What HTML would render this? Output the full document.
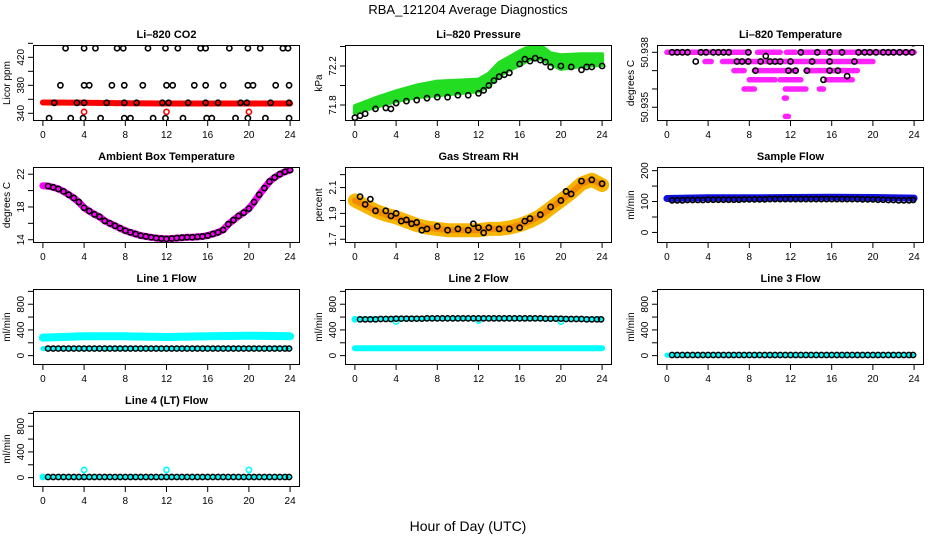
<!DOCTYPE html>
<html><head><meta charset="utf-8"><style>
html,body{margin:0;padding:0;background:#fff}
svg{display:block;font-family:"Liberation Sans",Arial,sans-serif}
</style></head><body>
<svg id="c" width="936" height="540" viewBox="0 0 936 540" xmlns="http://www.w3.org/2000/svg">
<text x="468" y="14" text-anchor="middle" font-size="13">RBA_121204  Average Diagnostics</text>
<text x="468" y="531" text-anchor="middle" font-size="14">Hour of Day (UTC)</text>
</svg>
<script>
// ---------- data ----------
const xTicks=[0,4,8,12,16,20,24];
const co2Hours=[2.2,4,5.1,7.2,7.8,10.2,11.9,13.1,15.3,15.8,18.1,19.9,21.1,23.3,23.8,
 1.7,4,4.5,6.7,7.9,9.7,12,12.6,14.7,15.8,17.5,19.9,20.4,22.6,23.9,
 1.1,3.3,4,6.2,7.9,9.1,11.6,12.2,14.1,15.8,17,19.2,19.8,22.1,23.9,
 0.6,2.7,3.9,5.6,7.9,8.5,10.7,11.9,13.6,15.9,16.4,18.7,19.9,21.6,23.9];
const co2Values=[433,433,433,433,433,433,433,433,433,433,433,433,433,433,433,
 380,380,380,380,380,380,380,380,380,380,380,380,380,380,380,
 355,355,355,355,355,355,355,355,355,355,355,355,355,355,355,
 333,333,333,333,333,333,333,333,333,333,333,333,333,333,333];
const co2BandHours=[0,4,8,12,16,20,24];
const co2BandValues=[355.5,355,354.5,354,354,354,354];
const co2RedHours=[4,12,20];
const co2RedValues=[342,342,342];

const presBandHours=[0,2,4,6,8,10,12,13,14,15,16,17,18,19,20,22,24];
const presUpper=[71.79,71.87,71.94,72.0,72.04,72.05,72.06,72.12,72.23,72.29,72.35,72.4,72.41,72.33,72.31,72.32,72.32];
const presLower=[71.72,71.78,71.84,71.88,71.9,71.92,71.94,72.0,72.1,72.16,72.21,72.27,72.28,72.22,72.17,72.2,72.21];
const presHours=[0,0.5,1,2,3,3.5,4,5,6,7,8,9,10,11,12,12.5,13,13.5,14,14.5,15,16,16.5,17,17.5,18,18.5,19,20,21,22,22.5,23,24];
const presValues=[71.67,71.69,71.71,71.76,71.77,71.76,71.82,71.84,71.85,71.87,71.88,71.88,71.9,71.9,71.92,71.95,72.0,72.05,72.09,72.11,72.13,72.22,72.27,72.25,72.28,72.26,72.24,72.19,72.2,72.19,72.16,72.19,72.19,72.2];

const tempSegStart=[0,8.8,11.6,13,3.7,5.4,6.5,8.5,13.5,8,11,15.5,7.5,11.5,14.8,11.4,11.5];
const tempSegEnd=[8,11,12.5,24,4.3,20,7.5,12.5,18.5,10.5,13,18,8.5,13.5,15.2,11.6,11.8];
const tempSegValues=[50.938,50.938,50.938,50.938,50.9375,50.9375,50.937,50.937,50.937,50.9365,50.9365,50.9365,50.936,50.936,50.936,50.9355,50.9345];
const tempHours=[0.5,1,1.5,2,3.3,3.8,4.5,5,5.5,6,7.9,13,14.6,15.8,17,18.6,19.2,19.7,20.3,21,21.5,22,22.6,23.2,23.8,
 2.8,6.8,7.3,7.9,9.1,10,10.5,11,12,14.1,15.8,18.2,8.6,11.8,12.5,13.6,15.8,16.6,17.5,15.2,9.6,23.9];
const tempValues=[50.938,50.938,50.938,50.938,50.938,50.938,50.938,50.938,50.938,50.938,50.938,50.938,50.938,50.938,50.938,50.938,50.938,50.938,50.938,50.938,50.938,50.938,50.938,50.938,50.938,
 50.9375,50.9375,50.9375,50.9375,50.9375,50.9375,50.9375,50.9375,50.9375,50.9375,50.9375,50.9375,50.937,50.937,50.937,50.937,50.937,50.937,50.9367,50.9365,50.9378,50.9385];

const ambHours=[0,0.5,1,1.5,2,2.5,3,3.5,4,4.5,5,5.5,6,6.5,7,7.5,8,8.5,9,9.5,10,10.5,11,11.5,12,12.5,13,13.5,14,14.5,15,15.5,16,16.5,17,17.5,18,18.5,19,19.5,20,20.5,21,21.5,22,22.5,23,23.5,24];
const ambValues=[20.6,20.55,20.4,20.2,19.9,19.5,19.1,18.6,17.9,17.5,17.1,16.8,16.3,16.0,15.7,15.4,15.1,14.9,14.7,14.5,14.4,14.3,14.2,14.15,14.1,14.15,14.2,14.25,14.3,14.3,14.35,14.4,14.5,14.7,14.9,15.2,15.9,16.4,16.9,17.3,17.8,18.6,19.5,20.3,21.1,21.6,22.0,22.3,22.5];

const rhBandHours=[0,1,2,3,4,5,6,7,8,9,10,11,12,13,14,15,16,17,18,19,20,21,22,23,24];
const rhBandValues=[2.0,1.96,1.92,1.89,1.87,1.84,1.81,1.79,1.78,1.77,1.77,1.77,1.77,1.78,1.78,1.79,1.81,1.84,1.88,1.94,2.0,2.06,2.13,2.16,2.12];
const rhHours=[0.5,1,1.5,2,3,3.5,4,4.5,5,5.5,6,6.5,7,8,9,10,11,11.5,12,12.5,13,14,15,16,16.5,17,18,19,20,20.5,21,22,23,24];
const rhValues=[2.03,1.97,2.01,1.92,1.92,1.88,1.9,1.84,1.85,1.82,1.83,1.77,1.78,1.8,1.77,1.78,1.77,1.82,1.79,1.75,1.79,1.78,1.78,1.79,1.84,1.86,1.89,1.95,2.0,2.07,2.05,2.15,2.16,2.13];

const flowBandHours=[0,4,8,12,16,20,24];
const sampleBandValues=[110,112,112,113,114,113,111];
const line1BandValues=[280,300,300,290,300,310,300];
const line2HighBand=[570,575,580,580,580,575,570];
const line2LowBand=[115,115,115,115,115,115,115];
const zeroBand=[8,8,8,8,8,8,8];
const flowHours=[0.5,1,1.5,2,2.5,3,3.5,4,4.5,5,5.5,6,6.5,7,7.5,8,8.5,9,9.5,10,10.5,11,11.5,12,12.5,13,13.5,14,14.5,15,15.5,16,16.5,17,17.5,18,18.5,19,19.5,20,20.5,21,21.5,22,22.5,23,23.5,23.9];
const sampleValues=[104,104,104,105,105,105,105,106,106,106,106,106,106,106,107,107,107,107,107,108,108,108,108,108,108,108,108,108,108,108,108,108,108,108,108,108,108,107,107,107,106,106,105,105,104,104,104,105];
const line1Values=[110,110,110,110,110,110,110,110,110,110,110,110,110,110,110,110,110,110,110,110,110,110,110,110,110,110,110,110,110,110,110,110,110,110,110,110,110,110,110,110,110,110,110,110,110,110,110,110];
const line2Values=[565,565,565,565,570,570,570,575,575,575,575,575,575,580,580,580,580,580,580,580,580,580,580,580,580,580,580,580,580,580,580,580,580,580,580,580,575,575,575,575,570,570,570,570,565,565,565,565];
const line3Values=[10,10,10,10,10,10,10,10,10,10,10,10,10,10,10,10,10,10,10,10,10,10,10,10,10,10,10,10,10,10,10,10,10,10,10,10,10,10,10,10,10,10,10,10,10,10,10,10];
const line4Values=[10,10,10,10,10,10,10,10,10,10,10,10,10,10,10,10,10,10,10,10,10,10,10,10,10,10,10,10,10,10,10,10,10,10,10,10,10,10,10,10,10,10,10,10,10,10,10,10];
const spikeHours=[0,4,12,20];
const spikeValues=[10,120,120,120];
const line2DipHours=[0,4,12,20];
const line2DipValues=[565,530,545,530];

// ---------- drawing ----------
const NS='http://www.w3.org/2000/svg';
const svg=document.getElementById('c');
const COLS=[33,345,657], ROWS=[45,167,289,411], PW=267, PH=76;
function mk(tag,attrs,parent){const e=document.createElementNS(NS,tag);for(const k in attrs)e.setAttribute(k,attrs[k]);(parent||svg).appendChild(e);return e;}
function panel(name,title,ylab,col,row,ymin,ymax,yticks,ylabels){
  const L=COLS[col],T=ROWS[row];
  const g=mk('g',{});
  
  
  const p={g,L,T,
    x:h=>L+9.9+h*(PW-19.8)/24,
    y:v=>T+PH-(v-ymin)/(ymax-ymin)*PH};
  const clip=mk('clipPath',{id:'clip-'+name},g);
  mk('rect',{x:L,y:T,width:PW,height:PH},clip);
  p.plot=mk('g',{'clip-path':'url(#clip-'+name+')'},g);
  
  
  const t=mk('text',{x:L+PW/2,y:T-7,'text-anchor':'middle','font-size':11,'font-weight':'bold'},g);
  t.textContent=title;
  
  
  const yl=mk('text',{transform:`translate(${L-23},${T+PH/2}) rotate(-90)`,'text-anchor':'middle','font-size':10},g);
  yl.textContent=ylab;
  
  
  xTicks.forEach(h=>{
    const X=p.x(h);
    mk('line',{x1:X,x2:X,y1:T+PH,y2:T+PH+5,stroke:'#000'},g);
    const lt=mk('text',{x:X,y:T+PH+17,'text-anchor':'middle','font-size':10},g);
    lt.textContent=h;
    
    
  });
  yticks.forEach(v=>{
    const Y=p.y(v);
    mk('line',{x1:L-5,x2:L,y1:Y,y2:Y,stroke:'#000'},g);
  });
  ylabels.forEach(v=>{
    const Y=p.y(v);
    const lt=mk('text',{transform:`translate(${L-9},${Y}) rotate(-90)`,'text-anchor':'middle','font-size':10},g);
    lt.textContent=v;
    
    
  });
  const box=mk('rect',{x:L+0.5,y:T+0.5,width:PW-1,height:PH-1,fill:'none',stroke:'#000','stroke-width':1},g);
  
  
  return p;
}
function pts(p,hs,vs,color,sw,nm){
  hs.forEach((h,i)=>{
    const c=mk('circle',{cx:p.x(h),cy:p.y(vs[i]),r:2.6,fill:'none',stroke:color,'stroke-width':sw||1.6},p.plot);
    
    
  });
}
function band(p,hs,vs,color,w,nm){
  const d=hs.map((h,i)=>(i?'L':'M')+p.x(h).toFixed(1)+','+p.y(vs[i]).toFixed(1)).join('');
  const e=mk('path',{d,fill:'none',stroke:color,'stroke-width':w,'stroke-linecap':'round','stroke-linejoin':'round'},p.plot);
  
  
}
function area(p,hs,up,lo,color,nm){
  let d=hs.map((h,i)=>(i?'L':'M')+p.x(h).toFixed(1)+','+p.y(up[i]).toFixed(1)).join('');
  for(let i=hs.length-1;i>=0;i--)d+='L'+p.x(hs[i]).toFixed(1)+','+p.y(lo[i]).toFixed(1);
  const e=mk('path',{d:d+'Z',fill:color,stroke:color,'stroke-width':4,'stroke-linejoin':'round'},p.plot);
  
  
}

// CO2
let p=panel('co2-panel','Li\u2013820 CO2','Licor ppm',0,0,329,437.6,[340,360,380,400,420,440],[340,380,420]);
band(p,co2BandHours,co2BandValues,'#ff0000',6,'co2-band');
pts(p,co2RedHours,co2RedValues,'#ff0000',1.6,'co2-red-point');
pts(p,co2Hours,co2Values,'#000',1.6,'co2-point');
// Pressure
p=panel('pressure-panel','Li\u2013820 Pressure','kPa',1,0,71.636,72.415,[71.8,72.0,72.2,72.4],[71.8,72.2]);
area(p,presBandHours,presUpper,presLower,'#22dd22','pressure-band');
pts(p,presHours,presValues,'#000',1.6,'pressure-point');
// Temperature
p=panel('temperature-panel','Li\u2013820 Temperature','degrees C',2,0,50.93425,50.9384,[50.935,50.936,50.937,50.938],['50.935','50.938']);
tempSegStart.forEach((s,i)=>{band(p,[s,tempSegEnd[i]],[tempSegValues[i],tempSegValues[i]],'#ff22ff',5.5,'temperature-segment');});
pts(p,tempHours,tempValues,'#000',1.6,'temperature-point');
// Ambient
p=panel('ambient-panel','Ambient Box Temperature','degrees C',0,1,13.6,22.88,[14,16,18,20,22],[14,18,22]);
band(p,ambHours,ambValues,'#ff00ff',7,'ambient-band');
pts(p,ambHours.slice(1),ambValues.slice(1),'#000',1.6,'ambient-point');
// RH
p=panel('rh-panel','Gas Stream RH','percent',1,1,1.671,2.259,[1.7,1.8,1.9,2.0,2.1,2.2],[1.7,1.9,2.1]);
band(p,rhBandHours,rhBandValues,'#f7b400',14,'rh-band');
band(p,rhBandHours,rhBandValues,'#f28a00',6,'rh-band-core');
pts(p,rhHours,rhValues,'#000',1.6,'rh-point');
// Sample flow
p=panel('sample-flow-panel','Sample Flow','ml/min',2,1,-34.2,211.8,[0,50,100,150,200],[0,100,200]);
band(p,flowBandHours,sampleBandValues,'#1010dd',7,'sample-band');
pts(p,flowHours,sampleValues,'#000',1.6,'sample-point');
// Line flows
const fy=[0,200,400,600,800,1000], fl=[0,400,800];
p=panel('line1-flow-panel','Line 1 Flow','ml/min',0,2,-146,1037,fy,fl);
band(p,flowBandHours,line1BandValues,'#00ffff',8,'line1-band');
band(p,flowBandHours,line1Values.slice(0,7),'#00ffff',5,'line1-low-band');
pts(p,flowHours,line1Values,'#000',1.5,'line1-point');
p=panel('line2-flow-panel','Line 2 Flow','ml/min',1,2,-146,1037,fy,fl);
band(p,flowBandHours,line2HighBand,'#00ffff',5,'line2-high-band');
band(p,flowBandHours,line2LowBand,'#00ffff',6,'line2-low-band');
pts(p,line2DipHours,line2DipValues,'#00ffff',1.6,'line2-cyan-point');
pts(p,flowHours,line2Values,'#000',1.5,'line2-point');
p=panel('line3-flow-panel','Line 3 Flow','ml/min',2,2,-146,1037,fy,fl);
band(p,flowBandHours,zeroBand,'#00ffff',5,'line3-band');
pts(p,flowHours,line3Values,'#000',1.5,'line3-point');
p=panel('line4-flow-panel','Line 4 (LT) Flow','ml/min',0,3,-146,1037,fy,fl);
band(p,flowBandHours,zeroBand,'#00ffff',5,'line4-band');
pts(p,spikeHours,spikeValues,'#00ffff',1.6,'line4-cyan-point');
pts(p,flowHours,line4Values,'#000',1.5,'line4-point');
</script>
</body></html>
